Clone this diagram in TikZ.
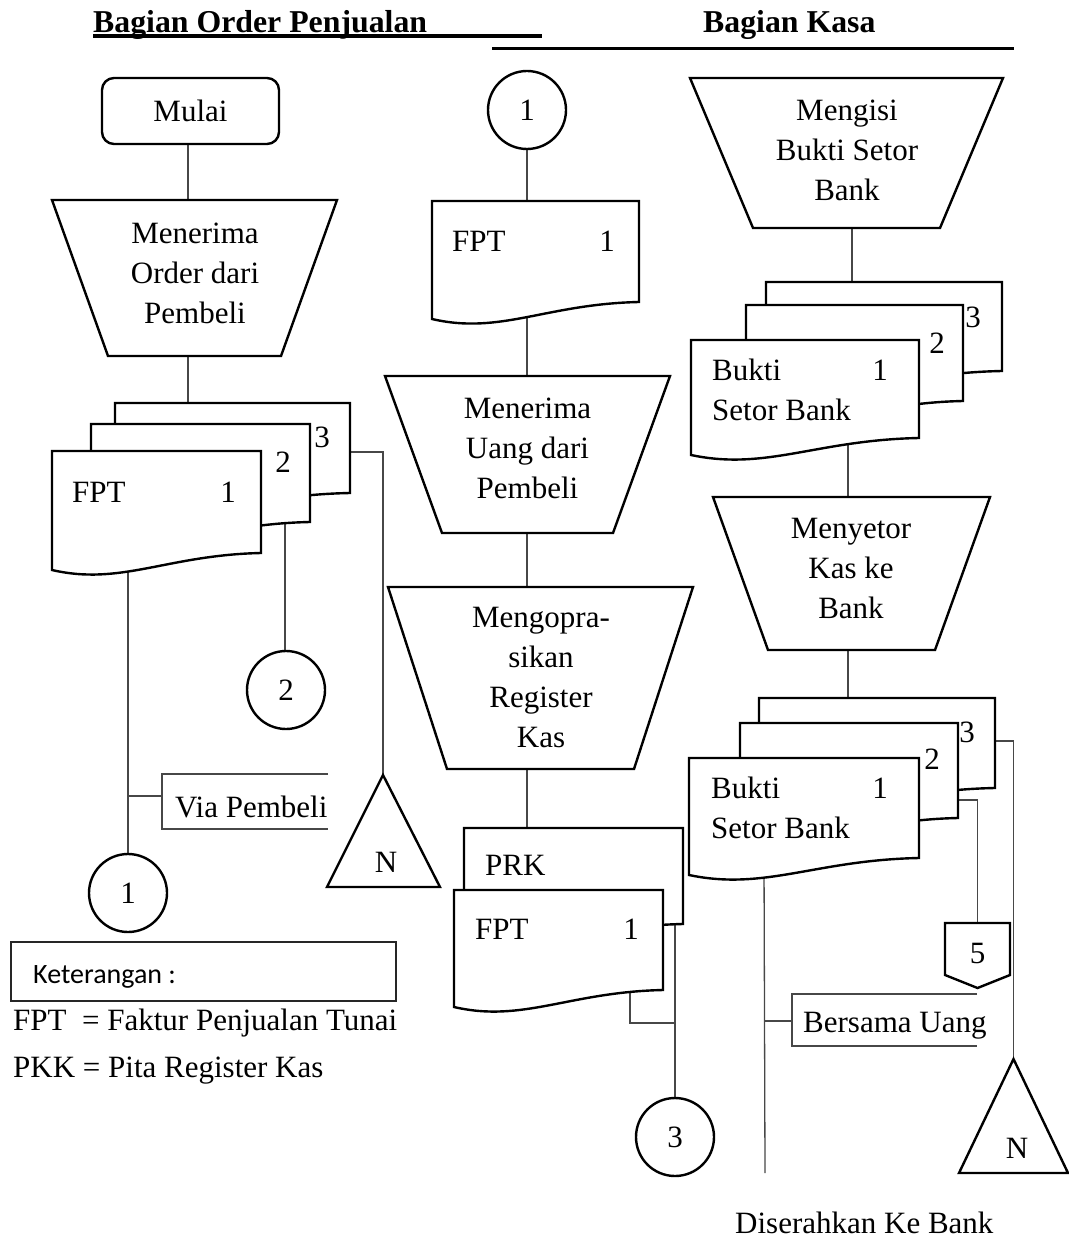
\documentclass[tikz,border=0pt]{standalone}
\usepackage{fontspec}
\setmainfont{Liberation Serif}
\newfontfamily\calibrifont{Carlito}
\usetikzlibrary{calc}
\pgfdeclarelayer{bg}
\pgfsetlayers{bg,main}

% document symbol with a wavy lower edge: left, top, right, bottom (right corner)
\newcommand{\DocShape}[4]{%
  \path[shp] (#1,#2) -- (#3,#2) -- (#3,#4)
    .. controls ({#1+0.55*(#3-#1)},{#4+2}) and ({#1+0.33*(#3-#1)},{#4+33}) .. (#1,{#4+17}) -- cycle;}

% manual operation (wide side on top): centre x, top y, bottom y, half top, half bottom
\newcommand{\ManOp}[5]{%
  \path[shp] ({#1-#4},#2) -- ({#1+#4},#2) -- ({#1+#5},#3) -- ({#1-#5},#3) -- cycle;}

\begin{document}
\begin{tikzpicture}[x=1pt,y=-1pt,
  shp/.style={draw=black,line width=2.4pt,fill=white,line join=miter},
  conn/.style={draw=black!72,line width=1.3pt},
  lbl/.style={font=\fontsize{31}{40}\selectfont,inner sep=0pt,align=center},
  hdr/.style={font=\fontsize{31.8}{38}\selectfont\bfseries,inner sep=0pt},
  circ/.style={shp,circle,minimum size=78pt,inner sep=0pt,font=\fontsize{31}{40}\selectfont},
]
\useasboundingbox (0,0) rectangle (1068,1238);

% ---------- headers ----------
\node[hdr,anchor=base west] (hOrder) at (93,33) {Bagian Order Penjualan};
\node[hdr,anchor=base west] (hKasa) at (703,33) {Bagian Kasa};
\draw[line width=4pt] (93,36.3) -- (542,36.3);
\draw[line width=3.5pt] (492,48.3) -- (1014,48.3);

% ---------- Bagian Order Penjualan ----------
\path[shp,rounded corners=12pt] (102,78) rectangle (279,144);
\node[lbl] (mulai) at (190.5,111) {Mulai};

\ManOp{194.5}{200}{356}{142.5}{86.5}
\node[lbl] (opOrder) at (195,273) {Menerima\\Order dari\\Pembeli};

\DocShape{115}{403}{350}{493}
\DocShape{91}{424}{310}{522}
\DocShape{52}{451}{261}{553}
\node[lbl,anchor=base west] (fptA) at (72,502) {FPT};
\node[lbl,anchor=base] (fptA1) at (228,502) {1};
\node[lbl,anchor=base] (fptA2) at (283,472) {2};
\node[lbl,anchor=base] (fptA3) at (322,447) {3};

\node[circ] (cirA1) at (128,893) {1};
\node[circ] (cirA2) at (286,690) {2};

\path[shp,line join=miter] (383,775) -- (440,887) -- (327,887) -- cycle;
\node[lbl] (nA) at (386,862) {N};

\node[lbl,anchor=base west] (via) at (175,817) {Via Pembeli};

% ---------- Bagian Kasa: penerimaan uang ----------
\node[circ] (cirB1) at (527,110) {1};

\DocShape{432}{201}{639}{302}
\node[lbl,anchor=base west] (fptB) at (452,252) {FPT};
\node[lbl,anchor=base] (fptB1) at (607,252) {1};

\ManOp{527.5}{376}{533}{142.5}{85.5}
\node[lbl] (opUang) at (527.5,448) {Menerima\\Uang dari\\Pembeli};

\ManOp{540.5}{587}{769}{152.5}{93.5}
\node[lbl] (opReg) at (541,677.5) {Mengopra-\\sikan\\Register\\Kas};

\DocShape{464}{828}{683}{924}
\DocShape{454}{890}{663}{990}
\node[lbl,anchor=base west] (prk) at (485,875) {PRK};
\node[lbl,anchor=base west] (fptC) at (475,939) {FPT};
\node[lbl,anchor=base] (fptC1) at (631,939) {1};

\node[circ] (cirB3) at (675,1137) {3};

% ---------- Bagian Kasa: setoran bank ----------
\ManOp{846.5}{78}{228}{156.5}{93.5}
\node[lbl] (opIsi) at (847,150) {Mengisi\\Bukti Setor\\Bank};

\DocShape{766}{282}{1002}{371}
\DocShape{746}{305}{963}{401}
\DocShape{691}{340}{919}{438}
\node[lbl,anchor=base west] (bsA) at (712,380) {Bukti};
\node[lbl,anchor=base west] (bsAb) at (712,420) {Setor Bank};
\node[lbl,anchor=base] (bsA1) at (880,380) {1};
\node[lbl,anchor=base] (bsA2) at (937,353) {2};
\node[lbl,anchor=base] (bsA3) at (973,327) {3};

\ManOp{851.5}{497}{650}{138.5}{83.5}
\node[lbl] (opSetor) at (851,568) {Menyetor\\Kas ke\\Bank};

\DocShape{759}{698}{995}{788}
\DocShape{740}{723}{958}{818}
\DocShape{689}{758}{919}{858}
\node[lbl,anchor=base west] (bsB) at (711,798) {Bukti};
\node[lbl,anchor=base west] (bsBb) at (711,838) {Setor Bank};
\node[lbl,anchor=base] (bsB1) at (880,798) {1};
\node[lbl,anchor=base] (bsB2) at (932,769) {2};
\node[lbl,anchor=base] (bsB3) at (967,742) {3};

% off-page connector
\path[shp] (945,923) -- (1010,923) -- (1010,975) -- (977.5,988) -- (945,975) -- cycle;
\node[lbl] (off5) at (977.5,953) {5};

\path[shp] (1013.5,1059) -- (1068,1173) -- (959,1173) -- cycle;
\node[lbl] (nB) at (1017,1148) {N};

\node[lbl,anchor=base west] (bersama) at (803,1032) {Bersama Uang};
\node[lbl,anchor=base west] (bank) at (735,1233) {Diserahkan Ke Bank};

% ---------- keterangan ----------
\draw[line width=1.5pt,black!85] (11,942) rectangle (396,1001);
\node[font=\calibrifont\fontsize{28}{34}\selectfont,inner sep=0pt,anchor=base west] (ket) at (33,983) {Keterangan :};
\node[lbl,anchor=base west] (legFpt) at (13,1030) {FPT\ \ = Faktur Penjualan Tunai};
\node[lbl,anchor=base west] (legPkk) at (13,1077) {PKK = Pita Register Kas};

% ---------- connection points ----------
\coordinate (mulaiS) at (188,144);
\coordinate (opOrderN) at (188,200);
\coordinate (opOrderS) at (188,356);
\coordinate (stackAN) at (188,403);
\coordinate (fptAS) at (128,560);
\coordinate (fptA2S) at (285,515);
\coordinate (fptA3E) at (350,452);
\coordinate (bendA) at (383,452);
\coordinate (triA) at (383,775);
\coordinate (tickA) at (128,796);
\coordinate (tickAE) at (162,796);
\coordinate (fptBN) at (527,201);
\coordinate (fptBS) at (527,310);
\coordinate (opUangN) at (527,376);
\coordinate (opUangS) at (527,533);
\coordinate (opRegN) at (527,587);
\coordinate (opRegS) at (527,769);
\coordinate (prkN) at (527,828);
\coordinate (fptCS) at (630,985);
\coordinate (bendC) at (630,1023);
\coordinate (joinC) at (675,1023);
\coordinate (prkS) at (675,920);
\coordinate (opIsiS) at (852,228);
\coordinate (stackBN) at (852,282);
\coordinate (bsAS) at (848,440);
\coordinate (opSetorN) at (848,497);
\coordinate (opSetorS) at (848,650);
\coordinate (stackCN) at (848,698);
\coordinate (bsB3E) at (995,741);
\coordinate (bendB3) at (1013.5,741);
\coordinate (triB) at (1013.5,1059);
\coordinate (bsB2E) at (958,800);
\coordinate (bendB2) at (977.5,800);
\coordinate (offN) at (977.5,923);
\coordinate (bsBS) at (764,860);
\coordinate (bsBEnd) at (765,1173);
\coordinate (tickB) at (764.5,1021);
\coordinate (tickBE) at (792,1021);

% ---------- connectors ----------
\begin{pgfonlayer}{bg}
\draw[conn] (mulaiS) -- (opOrderN);
\draw[conn] (opOrderS) -- (stackAN);
\draw[conn] (fptAS) -- (cirA1);
\draw[conn] (tickA) -- (tickAE);
\draw[conn] (fptA2S) -- (fptA2S |- cirA2.north);
\draw[conn] (fptA3E) -- (bendA) -- (triA);
\draw[conn] (cirB1) -- (fptBN);
\draw[conn] (fptBS) -- (opUangN);
\draw[conn] (opUangS) -- (opRegN);
\draw[conn] (opRegS) -- (prkN);
\draw[conn] (fptCS) -- (bendC) -- (joinC);
\draw[conn] (prkS) -- (cirB3);
\draw[conn] (opIsiS) -- (stackBN);
\draw[conn] (bsAS) -- (opSetorN);
\draw[conn] (opSetorS) -- (stackCN);
\draw[conn] (bsB3E) -- (bendB3) -- (triB);
\draw[conn] (bsB2E) -- (bendB2) -- (offN);
\draw[conn] (bsBS) -- (bsBEnd);
\draw[conn] (tickB) -- (tickBE);
\end{pgfonlayer}

% annotation brackets
\draw[conn] (328,774) -- (162,774) -- (162,829) -- (328,829);
\draw[conn] (977,994) -- (792,994) -- (792,1046) -- (977,1046);

\end{tikzpicture}
\end{document}
